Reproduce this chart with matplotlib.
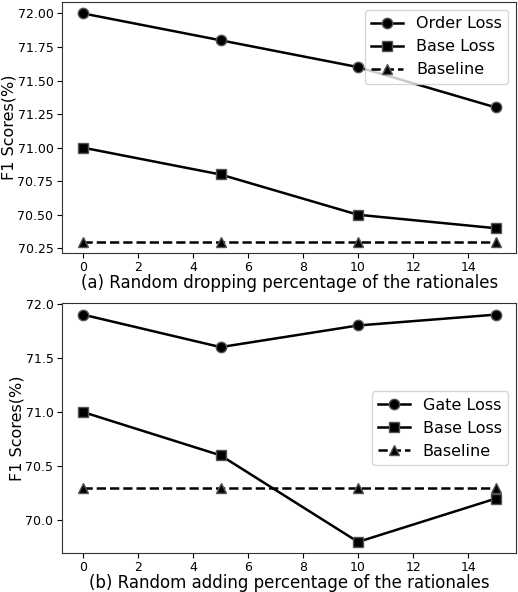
import matplotlib
matplotlib.use("Agg")
import matplotlib.pyplot as plt

pct = [0, 5, 10, 15]
# (a) dropping
order_loss = [72.0, 71.8, 71.6, 71.3]
base_loss_a = [71.0, 70.8, 70.5, 70.4]
baseline_a = [70.3, 70.3, 70.3, 70.3]
# (b) adding
gate_loss = [71.9, 71.6, 71.8, 71.9]
base_loss_b = [71.0, 70.6, 69.8, 70.2]
baseline_b = [70.3, 70.3, 70.3, 70.3]

yticks_a = [70.25, 70.50, 70.75, 71.00, 71.25, 71.50, 71.75, 72.00]
yticks_b = [70.0, 70.5, 71.0, 71.5, 72.0]

fig = plt.figure(figsize=(5.18, 5.92), dpi=100)
ax1 = fig.add_axes([0.1205, 0.5726, 0.876, 0.424])
ax2 = fig.add_axes([0.1205, 0.0654, 0.876, 0.4223])

mk = dict(color="black", mfc="black", mec="#555555", mew=1.0, ms=7.5, lw=1.8)

def draw(ax, top, base, bl, top_name, xlabel, yticks, fmt, loc):
    ax.plot(pct, top, marker="o", label=top_name, **mk)
    ax.plot(pct, base, marker="s", label="Base Loss", **mk)
    ax.plot(pct, bl, marker="^", ls="--", label="Baseline", **mk)
    ax.set_yticks(yticks)
    ax.set_yticklabels([fmt % v for v in yticks])
    ax.set_xticks([0, 2, 4, 6, 8, 10, 12, 14])
    ax.tick_params(labelsize=9)
    ax.tick_params(axis="x", pad=2)
    ax.tick_params(axis="y", pad=3)
    ax.set_xlabel(xlabel, fontsize=12, labelpad=0)
    ax.set_ylabel("F1 Scores(%)", fontsize=11.5, labelpad=1)
    ax.legend(loc=loc, fontsize=11.5)
    for s in ax.spines.values():
        s.set_color("#333333")

draw(ax1, order_loss, base_loss_a, baseline_a, "Order Loss",
     "(a) Random dropping percentage of the rationales", yticks_a, "%.2f", "upper right")
draw(ax2, gate_loss, base_loss_b, baseline_b, "Gate Loss",
     "(b) Random adding percentage of the rationales", yticks_b, "%.1f", "center right")

fig.savefig("out.png", dpi=100)
